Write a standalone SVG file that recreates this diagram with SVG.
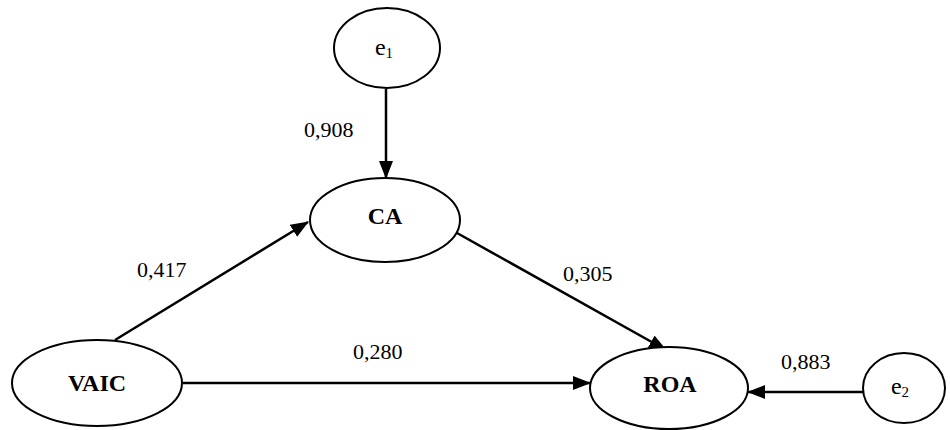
<svg xmlns="http://www.w3.org/2000/svg" width="950" height="430" viewBox="0 0 950 430">
<style>
.n{fill:#fff;stroke:#000;stroke-width:2}
.t{font-family:"Liberation Serif","Times New Roman",serif;font-size:24px;fill:#000;text-anchor:middle}
.b{font-weight:bold}
.l{font-family:"Liberation Serif","Times New Roman",serif;font-size:22px;fill:#000}
</style>
<defs>
<marker id="ah2" markerWidth="18" markerHeight="14" refX="17" refY="7" orient="auto" markerUnits="userSpaceOnUse">
<path d="M0,0 L18,7 L0,14 Z" fill="#000"/>
</marker>
</defs>
<g id="connectors">
<line x1="386" y1="89" x2="386" y2="178" stroke="#000" stroke-width="2.5" marker-end="url(#ah2)"/>
<line x1="115" y1="340" x2="308" y2="222" stroke="#000" stroke-width="2.5" marker-end="url(#ah2)"/>
<line x1="457" y1="233" x2="666" y2="350" stroke="#000" stroke-width="2.5" marker-end="url(#ah2)"/>
<line x1="183" y1="383" x2="590" y2="383" stroke="#000" stroke-width="2.5" marker-end="url(#ah2)"/>
<line x1="863" y1="392" x2="748" y2="392" stroke="#000" stroke-width="2.5" marker-end="url(#ah2)"/>
<text class="l" x="304" y="137">0,908</text>
<text class="l" x="137" y="277">0,417</text>
<text class="l" x="563" y="281">0,305</text>
<text class="l" x="353" y="359">0,280</text>
<text class="l" x="781" y="369">0,883</text>
</g>
<g id="e1">
<ellipse class="n" cx="387" cy="48" rx="53" ry="40"/>
<text class="t" x="384" y="55" font-size="22">e<tspan font-size="15" dy="3">1</tspan></text>
</g>
<g id="CA">
<ellipse class="n" cx="385" cy="220" rx="75" ry="42"/>
<text class="t b" x="385" y="224">CA</text>
</g>
<g id="VAIC">
<ellipse class="n" cx="97" cy="383" rx="85" ry="43"/>
<text class="t b" x="97" y="391">VAIC</text>
</g>
<g id="ROA">
<ellipse class="n" cx="669" cy="388" rx="79" ry="41"/>
<text class="t b" x="670" y="392">ROA</text>
</g>
<g id="e2">
<ellipse class="n" cx="904" cy="388" rx="41" ry="35"/>
<text class="t" x="900" y="394" font-size="22">e<tspan font-size="15" dy="3">2</tspan></text>
</g>
</svg>
